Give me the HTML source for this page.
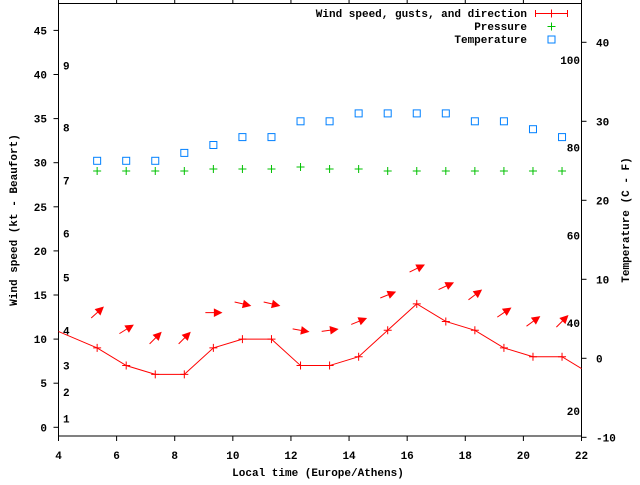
<!DOCTYPE html>
<html><head><meta charset="utf-8"><style>
body{margin:0;background:#fff}
svg text{font-family:"Liberation Mono",monospace;font-size:11px;font-weight:bold;fill:#000}
</style></head><body>
<svg id="chart" width="640" height="480" viewBox="0 0 640 480" xmlns="http://www.w3.org/2000/svg">
<defs><clipPath id="plotclip"><rect x="58.5" y="3.5" width="523" height="432.5"/></clipPath></defs>
<g id="axes"></g>
<g id="marks" clip-path="url(#plotclip)"></g>
<g id="legend"></g>
</svg>
<script>
const times = [3.33,5.33,6.33,7.33,8.33,9.33,10.33,11.33,12.33,13.33,14.33,15.33,16.33,17.33,18.33,19.33,20.33,21.33,22.33];
const windSpeed = [11.8,9,7,6,6,9,10,10,7,7,8,11,14,12,11,9,8,8,6];
const obsTimes = [5.33,6.33,7.33,8.33,9.33,10.33,11.33,12.33,13.33,14.33,15.33,16.33,17.33,18.33,19.33,20.33,21.33];
const gusts = [13,11.1,10.1,10.1,13,14,14,11,11,12,15,18,16,15,13,12,12];
const windDir = [228,238,225,225,270,283,283,280,262,248,248,244,245,233,236,234,225];
const pressure = [1013,1013,1013,1013,1014,1014,1014,1015,1014,1014,1013,1013,1013,1013,1013,1013,1013];
const temperature = [25,25,25,26,27,28,28,30,30,31,31,31,31,30,30,29,28];
const xTicks = [4,6,8,10,12,14,16,18,20,22];
const yTicks = [0,5,10,15,20,25,30,35,40,45];
const y2Ticks = [-10,0,10,20,30,40];
const fTicks = [20,40,60,80,100];
const beaufortLabels = ["1","2","3","4","5","6","7","8","9"];
const beaufortKt = [1,4,7,11,17,22,28,34,41];

const NS="http://www.w3.org/2000/svg";
const X0=58.5,X1=581.5,YT=3.5,YB=436;
const x=t=>X0+(t-4)*(X1-X0)/18;
const y=v=>427.3-v*8.82;
const y2=c=>121.3-(c-30)*7.9;
const yF=f=>y2((f-32)/1.8);
const yP=p=>171-(p-1013)*2;
function mk(tag,attrs,parent,txt){const e=document.createElementNS(NS,tag);for(const k in attrs)e.setAttribute(k,attrs[k]);if(txt!==undefined)e.textContent=txt;parent.appendChild(e);return e;}
const axes=document.getElementById('axes'),marks=document.getElementById('marks'),legend=document.getElementById('legend');

let b=mk('rect',{x:X0,y:YT,width:X1-X0,height:YB-YT,fill:'none',stroke:'#000','stroke-width':1},axes);


xTicks.forEach(t=>{
 let l=mk('path',{d:`M${x(t)},${YB}v5M${x(t)},${YT}v-5`,stroke:'#000'},axes);
 
 
 let tx=mk('text',{x:x(t),y:459,'text-anchor':'middle'},axes,String(t));
 
 
});
yTicks.forEach(v=>{
 let l=mk('path',{d:`M${X0},${y(v)}h-5`,stroke:'#000'},axes);
 
 
 let tx=mk('text',{x:47,y:y(v)+4,'text-anchor':'end'},axes,String(v));
 
 
});
y2Ticks.forEach(v=>{
 let l=mk('path',{d:`M${X1},${y2(v)}h5`,stroke:'#000'},axes);
 
 
 let tx=mk('text',{x:596,y:y2(v)+4},axes,String(v));
 
 
});
fTicks.forEach(f=>{
 let tx=mk('text',{x:580,y:yF(f)+4,'text-anchor':'end'},axes,String(f));
 
 
});
beaufortLabels.forEach((s,i)=>{
 let tx=mk('text',{x:63,y:y(beaufortKt[i])+4},axes,s);
 
 
});
let xt=mk('text',{x:318,y:476,'text-anchor':'middle'},axes,'Local time (Europe/Athens)');


let yt=mk('text',{x:0,y:0,'text-anchor':'middle',transform:'translate(17,220) rotate(-90)'},axes,'Wind speed (kt - Beaufort)');


let y2t=mk('text',{x:0,y:0,'text-anchor':'middle',transform:'translate(629,220) rotate(-90)'},axes,'Temperature (C - F)');



let ln=mk('polyline',{points:times.map((t,i)=>x(t)+','+y(windSpeed[i])).join(' '),fill:'none',stroke:'#f00','stroke-width':1},marks);


times.forEach((t,i)=>{
 let p=mk('path',{d:`M${x(t)-4},${y(windSpeed[i])}h8M${x(t)},${y(windSpeed[i])-4}v8`,stroke:'#f00'},marks);
 
 
});
obsTimes.forEach((t,i)=>{
 const a=(90-(windDir[i]-180))*Math.PI/180;
 const cx=x(t),cy=y(gusts[i]),L=8;
 const dx=Math.cos(a),dy=-Math.sin(a);
 const tx=cx+dx*L,ty=cy+dy*L,bx=cx-dx*L,by=cy-dy*L;
 const hx=tx-dx*7,hy=ty-dy*7,px=-dy*3.5,py=dx*3.5;
 let g=mk('path',{d:`M${bx},${by}L${hx},${hy}M${tx},${ty}L${hx+px},${hy+py}L${hx-px},${hy-py}Z`,stroke:'#f00',fill:'#f00','stroke-width':1},marks);
 
 
});
obsTimes.forEach((t,i)=>{
 let p=mk('path',{d:`M${x(t)-4},${yP(pressure[i])}h8M${x(t)},${yP(pressure[i])-4}v8`,stroke:'#00c000'},marks);
 
 
});
obsTimes.forEach((t,i)=>{
 let r=mk('rect',{x:x(t)-3.5,y:y2(temperature[i])-3.5,width:7,height:7,fill:'none',stroke:'#0080ff'},marks);
 
 
});
const labels=['Wind speed, gusts, and direction','Pressure','Temperature'];
labels.forEach((s,i)=>{
 let tx=mk('text',{x:527,y:17+i*13,'text-anchor':'end'},legend,s);
 
 
});
let s1=mk('path',{d:'M535.5,13.5h32M535.5,10v7M567.5,10v7M551.5,9.5v8',stroke:'#f00'},legend);


let s2=mk('path',{d:'M547.5,26.5h8M551.5,22.5v8',stroke:'#00c000'},legend);


let s3=mk('rect',{x:548,y:36,width:7,height:7,fill:'none',stroke:'#0080ff'},legend);


</script>
</body></html>
